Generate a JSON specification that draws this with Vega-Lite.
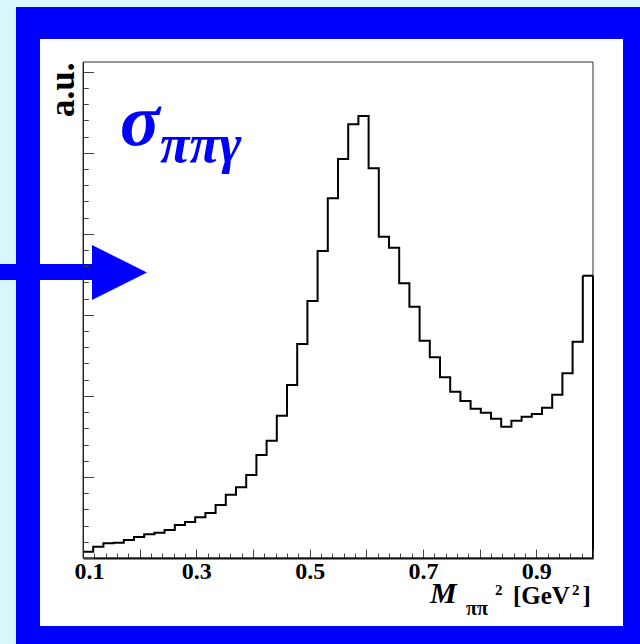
{
  "$schema": "https://vega.github.io/schema/vega-lite/v6.json",
  "autosize": {"type": "none"},
  "width": 510,
  "height": 496,
  "padding": {"left": 83, "top": 62, "right": 47, "bottom": 86},
  "background": "#d9f7fa",
  "config": {"view": {"stroke": null}},
  "data": {"values": [
    {"lo": 0.100, "hi": 0.118, "v": 0.078},
    {"lo": 0.118, "hi": 0.136, "v": 0.139},
    {"lo": 0.136, "hi": 0.154, "v": 0.181},
    {"lo": 0.154, "hi": 0.172, "v": 0.189},
    {"lo": 0.172, "hi": 0.190, "v": 0.222},
    {"lo": 0.190, "hi": 0.208, "v": 0.259},
    {"lo": 0.208, "hi": 0.226, "v": 0.292},
    {"lo": 0.226, "hi": 0.244, "v": 0.312},
    {"lo": 0.244, "hi": 0.262, "v": 0.345},
    {"lo": 0.262, "hi": 0.280, "v": 0.407},
    {"lo": 0.280, "hi": 0.298, "v": 0.444},
    {"lo": 0.298, "hi": 0.316, "v": 0.502},
    {"lo": 0.316, "hi": 0.334, "v": 0.555},
    {"lo": 0.334, "hi": 0.352, "v": 0.654},
    {"lo": 0.352, "hi": 0.370, "v": 0.781},
    {"lo": 0.370, "hi": 0.388, "v": 0.872},
    {"lo": 0.388, "hi": 0.406, "v": 1.024},
    {"lo": 0.406, "hi": 0.424, "v": 1.271},
    {"lo": 0.424, "hi": 0.442, "v": 1.447},
    {"lo": 0.442, "hi": 0.460, "v": 1.756},
    {"lo": 0.460, "hi": 0.478, "v": 2.134},
    {"lo": 0.478, "hi": 0.496, "v": 2.640},
    {"lo": 0.496, "hi": 0.514, "v": 3.171},
    {"lo": 0.514, "hi": 0.532, "v": 3.788},
    {"lo": 0.532, "hi": 0.550, "v": 4.438},
    {"lo": 0.550, "hi": 0.568, "v": 4.923},
    {"lo": 0.568, "hi": 0.586, "v": 5.351},
    {"lo": 0.586, "hi": 0.604, "v": 5.453},
    {"lo": 0.604, "hi": 0.622, "v": 4.808},
    {"lo": 0.622, "hi": 0.640, "v": 3.964},
    {"lo": 0.640, "hi": 0.658, "v": 3.828},
    {"lo": 0.658, "hi": 0.676, "v": 3.389},
    {"lo": 0.676, "hi": 0.694, "v": 3.101},
    {"lo": 0.694, "hi": 0.712, "v": 2.681},
    {"lo": 0.712, "hi": 0.730, "v": 2.476},
    {"lo": 0.730, "hi": 0.748, "v": 2.229},
    {"lo": 0.748, "hi": 0.766, "v": 2.052},
    {"lo": 0.766, "hi": 0.784, "v": 1.937},
    {"lo": 0.784, "hi": 0.802, "v": 1.842},
    {"lo": 0.802, "hi": 0.820, "v": 1.793},
    {"lo": 0.820, "hi": 0.838, "v": 1.719},
    {"lo": 0.838, "hi": 0.856, "v": 1.620},
    {"lo": 0.856, "hi": 0.874, "v": 1.694},
    {"lo": 0.874, "hi": 0.892, "v": 1.743},
    {"lo": 0.892, "hi": 0.910, "v": 1.777},
    {"lo": 0.910, "hi": 0.928, "v": 1.854},
    {"lo": 0.928, "hi": 0.946, "v": 2.015},
    {"lo": 0.946, "hi": 0.964, "v": 2.279},
    {"lo": 0.964, "hi": 0.982, "v": 2.669},
    {"lo": 0.982, "hi": 1.000, "v": 3.483}
  ]},
  "layer": [
    {
      "data": {"values": [{}]},
      "mark": {"type": "rect", "color": "#0000ff", "clip": false},
      "encoding": {
        "x": {"datum": -0.01824, "type": "quantitative", "scale": {"domain": [0.1, 1.0], "nice": false, "zero": false}},
        "x2": {"datum": 1.2},
        "y": {"datum": -1.3, "type": "quantitative", "scale": {"domain": [0, 6.12], "nice": false, "zero": false}},
        "y2": {"datum": 6.7983}
      }
    },
    {
      "data": {"values": [{}]},
      "mark": {"type": "rect", "color": "#ffffff", "clip": false},
      "encoding": {
        "x": {"datum": 0.02412, "type": "quantitative", "scale": {"domain": [0.1, 1.0], "nice": false, "zero": false}},
        "x2": {"datum": 1.05294},
        "y": {"datum": -0.839, "type": "quantitative", "scale": {"domain": [0, 6.12], "nice": false, "zero": false}},
        "y2": {"datum": 6.4035}
      }
    },
    {
      "data": {"values": [{}]},
      "mark": {"type": "rect", "filled": false, "color": "#333333", "strokeWidth": 1, "clip": false},
      "encoding": {
        "x": {"datum": 0.1, "type": "quantitative", "scale": {"domain": [0.1, 1.0], "nice": false, "zero": false}},
        "x2": {"datum": 1.0},
        "y": {"datum": 0, "type": "quantitative", "scale": {"domain": [0, 6.12], "nice": false, "zero": false}},
        "y2": {"datum": 6.12}
      }
    },
    {
      "mark": {"type": "line", "interpolate": "step-after", "color": "#000000", "strokeWidth": 2},
      "encoding": {
        "x": {
          "field": "lo", "type": "quantitative",
          "scale": {"domain": [0.1, 1.0], "nice": false, "zero": false},
          "axis": {
            "title": null,
            "zindex": 1,
            "tickCount": 200,
            "values": [0.1,0.12,0.14,0.16,0.18,0.2,0.22,0.24,0.26,0.28,0.3,0.32,0.34,0.36,0.38,0.4,0.42,0.44,0.46,0.48,0.5,0.52,0.54,0.56,0.58,0.6,0.62,0.64,0.66,0.68,0.7,0.72,0.74,0.76,0.78,0.8,0.82,0.84,0.86,0.88,0.9,0.92,0.94,0.96,0.98,1.0],
            "labelExpr": "indexof([0.1,0.3,0.5,0.7,0.9], datum.value) >= 0 ? format(datum.value, '.1f') : ''",
            "labelFont": "Liberation Serif",
            "labelFontWeight": "bold",
            "labelFontSize": 24,
            "labelColor": "#000000",
            "labelFlush": false,
            "labelOverlap": false,
            "labelBound": false,
            "labelPadding": 10,
            "labelOffset": {"condition": {"test": "datum.value < 0.11", "value": 6}, "value": 0},
            "tickSize": {"condition": {"test": "abs(datum.value * 10 - round(datum.value * 10)) < 0.001", "value": -9}, "value": -5},
            "tickColor": "#444444",
            "tickWidth": 1,
            "domainColor": "#111111",
            "domainWidth": 2,
            "grid": false
          }
        },
        "y": {
          "field": "v", "type": "quantitative",
          "scale": {"domain": [0, 6.12], "nice": false, "zero": false},
          "axis": {
            "title": "a.u.",
            "zindex": 1,
            "tickCount": 200,
            "titleFont": "Liberation Serif",
            "titleFontWeight": "bold",
            "titleFontSize": 35,
            "titleColor": "#000000",
            "titleAngle": 270,
            "titleAlign": "right",
            "titleBaseline": "alphabetic",
            "titleX": -10,
            "titleY": 0,
            "values": [0,0.2,0.4,0.6,0.8,1,1.2,1.4,1.6,1.8,2,2.2,2.4,2.6,2.8,3,3.2,3.4,3.6,3.8,4,4.2,4.4,4.6,4.8,5,5.2,5.4,5.6,5.8,6],
            "labels": false,
            "tickSize": {"condition": {"test": "abs(datum.value - round(datum.value)) < 0.001", "value": -10.5}, "value": -5.3},
            "tickColor": "#444444",
            "tickWidth": 1,
            "domainColor": "#222222",
            "domainWidth": 1,
            "grid": false
          }
        }
      }
    },
    {
      "transform": [{"filter": "datum.lo > 0.98"}],
      "mark": {"type": "rule", "color": "#000000", "strokeWidth": 2},
      "encoding": {
        "x": {"field": "lo", "type": "quantitative", "scale": {"domain": [0.1, 1.0], "nice": false, "zero": false}},
        "x2": {"field": "hi"},
        "y": {"field": "v", "type": "quantitative", "scale": {"domain": [0, 6.12], "nice": false, "zero": false}}
      }
    },
    {
      "transform": [{"filter": "datum.lo > 0.98"}],
      "mark": {"type": "rule", "color": "#000000", "strokeWidth": 2},
      "encoding": {
        "x": {"field": "hi", "type": "quantitative", "scale": {"domain": [0.1, 1.0], "nice": false, "zero": false}},
        "y": {"field": "v", "type": "quantitative", "scale": {"domain": [0, 6.12], "nice": false, "zero": false}},
        "y2": {"datum": 0}
      }
    },
    {
      "data": {"values": [{}]},
      "mark": {"type": "rect", "color": "#0000ff", "clip": false},
      "encoding": {
        "x": {"datum": -0.06, "type": "quantitative", "scale": {"domain": [0.1, 1.0], "nice": false, "zero": false}},
        "x2": {"datum": 0.11588},
        "y": {"datum": 3.43, "type": "quantitative", "scale": {"domain": [0, 6.12], "nice": false, "zero": false}},
        "y2": {"datum": 3.6274}
      }
    },
    {
      "data": {"values": [{}]},
      "mark": {"type": "point", "shape": "M -1 -1 L 1 0 L -1 1 Z", "filled": true, "color": "#0000ff", "opacity": 1, "size": 3025, "strokeWidth": 0, "clip": false},
      "encoding": {
        "x": {"datum": 0.16441, "type": "quantitative", "scale": {"domain": [0.1, 1.0], "nice": false, "zero": false}},
        "y": {"datum": 3.5225, "type": "quantitative", "scale": {"domain": [0, 6.12], "nice": false, "zero": false}}
      }
    },
    {
      "data": {"values": [{}]},
      "mark": {"type": "text", "text": "σ", "font": "Liberation Serif", "fontWeight": "bold", "fontStyle": "italic", "fontSize": 74, "color": "#0000ff", "align": "left", "baseline": "alphabetic", "clip": false},
      "encoding": {
        "x": {"datum": 0.1653, "type": "quantitative", "scale": {"domain": [0.1, 1.0], "nice": false, "zero": false}},
        "y": {"datum": 5.0956, "type": "quantitative", "scale": {"domain": [0, 6.12], "nice": false, "zero": false}}
      }
    },
    {
      "data": {"values": [{}]},
      "mark": {"type": "text", "text": "ππγ", "font": "Liberation Serif", "fontWeight": "bold", "fontStyle": "italic", "fontSize": 54, "color": "#0000ff", "align": "left", "baseline": "alphabetic", "clip": false},
      "encoding": {
        "x": {"datum": 0.2359, "type": "quantitative", "scale": {"domain": [0.1, 1.0], "nice": false, "zero": false}},
        "y": {"datum": 4.8858, "type": "quantitative", "scale": {"domain": [0, 6.12], "nice": false, "zero": false}}
      }
    },
    {
      "data": {"values": [{}]},
      "mark": {"type": "text", "text": "M", "font": "Liberation Serif", "fontWeight": "bold", "fontStyle": "italic", "fontSize": 30, "color": "#000000", "align": "left", "baseline": "alphabetic", "clip": false},
      "encoding": {
        "x": {"datum": 0.71235, "type": "quantitative", "scale": {"domain": [0.1, 1.0], "nice": false, "zero": false}},
        "y": {"datum": -0.5552, "type": "quantitative", "scale": {"domain": [0, 6.12], "nice": false, "zero": false}}
      }
    },
    {
      "data": {"values": [{}]},
      "mark": {"type": "text", "text": "ππ", "font": "Liberation Serif", "fontWeight": "bold", "fontSize": 20, "color": "#000000", "align": "left", "baseline": "alphabetic", "clip": false},
      "encoding": {
        "x": {"datum": 0.77588, "type": "quantitative", "scale": {"domain": [0.1, 1.0], "nice": false, "zero": false}},
        "y": {"datum": -0.7033, "type": "quantitative", "scale": {"domain": [0, 6.12], "nice": false, "zero": false}}
      }
    },
    {
      "data": {"values": [{}]},
      "mark": {"type": "text", "text": "2", "font": "Liberation Serif", "fontWeight": "bold", "fontSize": 15, "color": "#000000", "align": "left", "baseline": "alphabetic", "clip": false},
      "encoding": {
        "x": {"datum": 0.82706, "type": "quantitative", "scale": {"domain": [0.1, 1.0], "nice": false, "zero": false}},
        "y": {"datum": -0.4565, "type": "quantitative", "scale": {"domain": [0, 6.12], "nice": false, "zero": false}}
      }
    },
    {
      "data": {"values": [{}]},
      "mark": {"type": "text", "text": "[GeV", "font": "Liberation Serif", "fontWeight": "bold", "fontSize": 25, "color": "#000000", "align": "left", "baseline": "alphabetic", "clip": false},
      "encoding": {
        "x": {"datum": 0.85882, "type": "quantitative", "scale": {"domain": [0.1, 1.0], "nice": false, "zero": false}},
        "y": {"datum": -0.5675, "type": "quantitative", "scale": {"domain": [0, 6.12], "nice": false, "zero": false}}
      }
    },
    {
      "data": {"values": [{}]},
      "mark": {"type": "text", "text": "2", "font": "Liberation Serif", "fontWeight": "bold", "fontSize": 15, "color": "#000000", "align": "left", "baseline": "alphabetic", "clip": false},
      "encoding": {
        "x": {"datum": 0.96294, "type": "quantitative", "scale": {"domain": [0.1, 1.0], "nice": false, "zero": false}},
        "y": {"datum": -0.4565, "type": "quantitative", "scale": {"domain": [0, 6.12], "nice": false, "zero": false}}
      }
    },
    {
      "data": {"values": [{}]},
      "mark": {"type": "text", "text": "]", "font": "Liberation Serif", "fontWeight": "bold", "fontSize": 25, "color": "#000000", "align": "left", "baseline": "alphabetic", "clip": false},
      "encoding": {
        "x": {"datum": 0.98147, "type": "quantitative", "scale": {"domain": [0.1, 1.0], "nice": false, "zero": false}},
        "y": {"datum": -0.5675, "type": "quantitative", "scale": {"domain": [0, 6.12], "nice": false, "zero": false}}
      }
    }
  ]
}
